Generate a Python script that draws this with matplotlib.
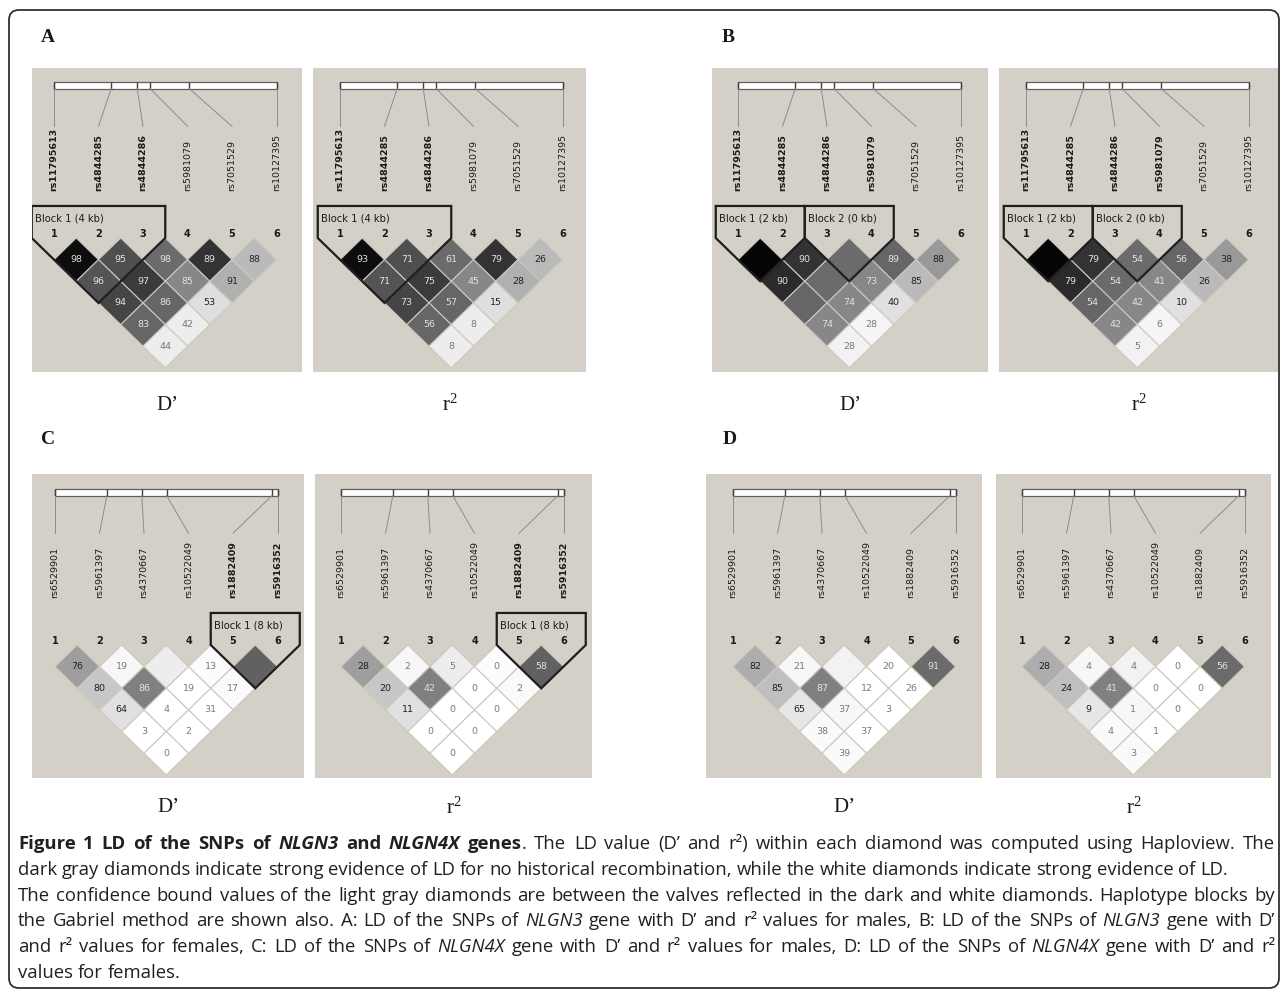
import numpy as np
import matplotlib
matplotlib.use('Agg')
import matplotlib.pyplot as plt
from matplotlib.patches import Polygon, Rectangle, FancyBboxPatch

W, H = 1284, 994

# SNP names and relative positions along the ruler
snps_nlgn3 = ['rs11795613', 'rs4844285', 'rs4844286', 'rs5981079', 'rs7051529', 'rs10127395']
snps_nlgn4x = ['rs6529901', 'rs5961397', 'rs4370667', 'rs10522049', 'rs1882409', 'rs5916352']
pos_nlgn3 = [0.0, 0.257, 0.374, 0.432, 0.608, 1.0]
pos_nlgn4x = [0.0, 0.233, 0.390, 0.502, 0.975, 1.0]

# pair order: (1,2),(2,3),(3,4),(4,5),(5,6),(1,3),...,(1,6); 100 = blank diamond
pairs = [(i, i + d) for d in range(1, 6) for i in range(1, 7 - d)]

A_dprime = [98, 95, 98, 89, 88, 96, 97, 85, 91, 94, 86, 53, 83, 42, 44]
A_r2 = [93, 71, 61, 79, 26, 71, 75, 45, 28, 73, 57, 15, 56, 8, 8]
A_shade = [0.05, 0.31, 0.42, 0.20, 0.73, 0.33, 0.23, 0.53, 0.69, 0.27, 0.40, 0.87, 0.40, 0.93, 0.93]

B_dprime = [100, 90, 100, 89, 88, 90, 100, 73, 85, 100, 74, 40, 74, 28, 28]
B_r2 = [100, 79, 54, 56, 38, 79, 54, 41, 26, 54, 42, 10, 42, 6, 5]
B_shade = [0.02, 0.20, 0.42, 0.40, 0.60, 0.17, 0.42, 0.53, 0.73, 0.40, 0.53, 0.88, 0.53, 0.96, 0.95]

C_dprime = [76, 19, 100, 13, 100, 80, 86, 19, 17, 64, 4, 31, 3, 2, 0]
C_r2 = [28, 2, 5, 0, 58, 20, 42, 0, 2, 11, 0, 0, 0, 0, 0]
C_shade = [0.62, 0.97, 0.93, 0.99, 0.38, 0.78, 0.50, 1.0, 0.98, 0.88, 1.0, 1.0, 1.0, 1.0, 1.0]

D_dprime = [82, 21, 100, 20, 91, 85, 87, 12, 26, 65, 37, 3, 38, 37, 39]
D_r2 = [28, 4, 4, 0, 56, 24, 41, 0, 0, 9, 1, 0, 4, 1, 3]
D_shade = [0.68, 0.97, 0.95, 1.0, 0.42, 0.75, 0.50, 1.0, 1.0, 0.90, 0.97, 1.0, 0.98, 1.0, 0.98]

A_blocks = [(1, 3, 'Block 1 (4 kb)')]
B_blocks = [(1, 2, 'Block 1 (2 kb)'), (3, 4, 'Block 2 (0 kb)')]
C_blocks = [(5, 6, 'Block 1 (8 kb)')]
D_blocks = []

# geometry (pixels per SNP step, vertical offsets in steps above diamond row)
SPX, SPY = 44.5, 43.3
BAR_Y, BAR_H = 3.53, 0.16
LINE_END = 2.58
LABEL_Y = 1.08
NUM_Y = 0.10
BLOCK_TOP = 0.74
BLOCK_TXT_Y = 0.45
BG = '#d4d0c8'

plt.rcParams['mathtext.fontset'] = 'custom'
plt.rcParams['mathtext.rm'] = 'Liberation Serif'
plt.rcParams['mathtext.it'] = 'Liberation Serif:italic'

fig = plt.figure(figsize=(W / 100, H / 100), dpi=100)
base = fig.add_axes([0, 0, 1, 1])
base.set_xlim(0, W)
base.set_ylim(H, 0)
base.axis('off')


def text_color(s):
    if s < 0.6:
        return '#e2e2e2'
    if s < 0.92:
        return '#222222'
    return '#7a7a7a'


def draw_panel(rect, x1px, y0px, snps, pos, values, shades, blocks):
    l, t, r, b = rect
    ax = fig.add_axes([l / W, 1 - b / H, (r - l) / W, (b - t) / H])
    ax.set_xlim(1 + (l - x1px) / SPX, 1 + (r - x1px) / SPX)
    ax.set_ylim((y0px - b) / SPY, (y0px - t) / SPY)
    ax.set_facecolor(BG)
    for sp in ax.spines.values():
        sp.set_visible(False)
    ax.set_xticks([])
    ax.set_yticks([])

    n = len(snps)
    xs = np.arange(1, n + 1)
    gx = 1 + (n - 1) * np.array(pos)
    ax.add_patch(Rectangle((gx[0], BAR_Y - BAR_H / 2), gx[-1] - gx[0], BAR_H,
                           facecolor='white', edgecolor='#606060', lw=0.9))
    ax.vlines(gx, BAR_Y - BAR_H / 2, BAR_Y + BAR_H / 2, color='#404040', lw=1.0)
    for g, x in zip(gx, xs):
        ax.plot([g, x], [BAR_Y - BAR_H / 2, LINE_END], color='#8c8c8c', lw=0.7)

    bold = set()
    for a, z, _ in blocks:
        bold.update(range(a, z + 1))
    for x, name in zip(xs, snps):
        ax.text(x, LABEL_Y, name, rotation=90, ha='center', va='bottom', fontsize=6.8,
                fontweight='bold' if x in bold else 'normal', color='#1a1a1a')
        ax.text(x, NUM_Y, str(x), ha='center', va='center', fontsize=7,
                fontweight='bold', color='#1a1a1a')

    for (i, j), v, s in zip(pairs, values, shades):
        cx, cy = (i + j) / 2, -(j - i) / 2
        ax.add_patch(Polygon([(cx - 0.5, cy), (cx, cy + 0.5), (cx + 0.5, cy), (cx, cy - 0.5)],
                             closed=True, facecolor=str(s), edgecolor='#ccc8bf', lw=0.8))
        if v < 100:
            ax.text(cx, cy, str(v), ha='center', va='center', fontsize=6.8, color=text_color(s))

    for a, z, label in blocks:
        ax.add_patch(Polygon([(a - 0.5, 0), (a - 0.5, BLOCK_TOP), (z + 0.5, BLOCK_TOP),
                              (z + 0.5, 0), ((a + z) / 2, -(z - a) / 2 - 0.5)],
                             closed=True, fill=False, edgecolor='#1e1e1e', lw=1.6,
                             joinstyle='miter'))
        ax.text(a - 0.5 + 0.08, BLOCK_TXT_Y, label, ha='left', va='center',
                fontsize=7.2, color='#1a1a1a')
    return ax


panels = [
    ((32, 68, 302, 372), 54, 238, snps_nlgn3, pos_nlgn3, A_dprime, A_shade, A_blocks, "D’"),
    ((313, 68, 586, 372), 340, 238, snps_nlgn3, pos_nlgn3, A_r2, A_shade, A_blocks, 'r$^2$'),
    ((712, 68, 988, 372), 738, 238, snps_nlgn3, pos_nlgn3, B_dprime, B_shade, B_blocks, "D’"),
    ((999, 68, 1278, 372), 1026, 238, snps_nlgn3, pos_nlgn3, B_r2, B_shade, B_blocks, 'r$^2$'),
    ((32, 474, 304, 778), 55, 645, snps_nlgn4x, pos_nlgn4x, C_dprime, C_shade, C_blocks, "D’"),
    ((315, 474, 592, 778), 341, 645, snps_nlgn4x, pos_nlgn4x, C_r2, C_shade, C_blocks, 'r$^2$'),
    ((706, 474, 982, 778), 733, 645, snps_nlgn4x, pos_nlgn4x, D_dprime, D_shade, D_blocks, "D’"),
    ((996, 474, 1271, 778), 1022, 645, snps_nlgn4x, pos_nlgn4x, D_r2, D_shade, D_blocks, 'r$^2$'),
]

for rect, x1, y0, snps, pos, vals, shades, blocks, lab in panels:
    draw_panel(rect, x1, y0, snps, pos, vals, shades, blocks)
    cx = (rect[0] + rect[2]) / 2
    ly = 405 if rect[1] < 400 else 808
    base.text(cx, ly, lab, ha='center', va='center', fontsize=15,
              family='Liberation Serif', color='#1a1a1a')

for letter, (x, y) in zip('ABCD', [(48, 38), (728, 38), (48, 440), (730, 440)]):
    base.text(x, y, letter, ha='center', va='center', fontsize=14, fontweight='bold',
              family='Liberation Serif', color='#1a1a1a')

base.add_patch(FancyBboxPatch((9, 10), 1270, 978, boxstyle='round,pad=0,rounding_size=10',
                              fill=False, edgecolor='#303030', lw=1.3))

# caption
caption_lines = [
    [('Figure 1 LD of the SNPs of ', 'b'), ('NLGN3', 'bi'), (' and ', 'b'), ('NLGN4X', 'bi'),
     (' genes', 'b'),
     ('. The LD value (D’ and r²) within each diamond was computed using Haploview. The', 'n')],
    [('dark gray diamonds indicate strong evidence of LD for no historical recombination, '
      'while the white diamonds indicate strong evidence of LD.', 'n')],
    [('The confidence bound values of the light gray diamonds are between the valves '
      'reflected in the dark and white diamonds. Haplotype blocks by', 'n')],
    [('the Gabriel method are shown also. A: LD of the SNPs of ', 'n'), ('NLGN3', 'i'),
     (' gene with D’ and r² values for males, B: LD of the SNPs of ', 'n'), ('NLGN3', 'i'),
     (' gene with D’', 'n')],
    [('and r² values for females, C: LD of the SNPs of ', 'n'), ('NLGN4X', 'i'),
     (' gene with D’ and r² values for males, D: LD of the SNPs of ', 'n'), ('NLGN4X', 'i'),
     (' gene with D’ and r²', 'n')],
    [('values for females.', 'n')],
]
justified = [True, False, True, True, True, False]
baselines = [849, 875, 901, 926, 952, 978]
X0, X1 = 18, 1275
CAP_FONT = ['Open Sans', 'DejaVu Sans']

renderer = fig.canvas.get_renderer()


def to_words(segs):
    words = [[]]
    for txt, st in segs:
        parts = txt.split(' ')
        for k, p in enumerate(parts):
            if k > 0:
                words.append([])
            if p:
                words[-1].append((p, st))
    return [w for w in words if w]


def make_text(s, st, fs, y=0):
    return base.text(0, y, s, fontsize=fs, family=CAP_FONT,
                     fontweight='bold' if 'b' in st else 'normal',
                     style='italic' if 'i' in st else 'normal',
                     ha='left', va='baseline', color='#231f20')


def width(s, st, fs):
    t = make_text(s, st, fs)
    w = t.get_window_extent(renderer).width
    t.remove()
    return w


def natural_width(words, fs):
    sp = width('a a', 'n', fs) - width('aa', 'n', fs)
    tot = sum(width(p, st, fs) for w in words for p, st in w)
    return tot + sp * (len(words) - 1)


fs = 10 * 1208 / natural_width(to_words(caption_lines[1]), 10)
space = width('a a', 'n', fs) - width('aa', 'n', fs)

for segs, just, yb in zip(caption_lines, justified, baselines):
    words = to_words(segs)
    arts = []
    widths = []
    for w in words:
        pieces = []
        tw = 0
        for p, st in w:
            t = make_text(p, st, fs, yb)
            pw = t.get_window_extent(renderer).width
            pieces.append((t, pw))
            tw += pw
        arts.append(pieces)
        widths.append(tw)
    gap = (X1 - X0 - sum(widths)) / (len(words) - 1) if just else space
    x = X0
    for pieces, tw in zip(arts, widths):
        xx = x
        for t, pw in pieces:
            t.set_x(xx)
            xx += pw
        x += tw + gap

fig.savefig('out.png', dpi=100, facecolor='white')
